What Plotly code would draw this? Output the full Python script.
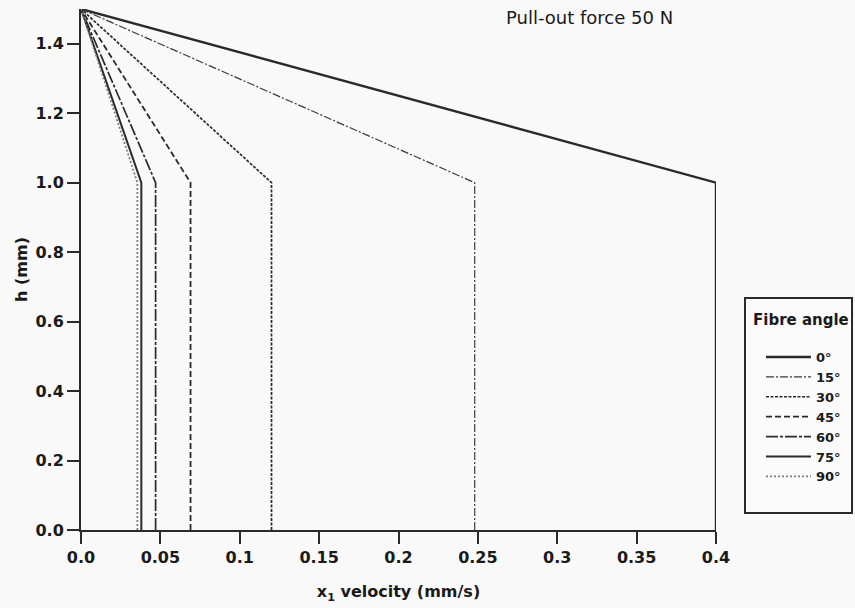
import plotly.graph_objects as go

# Fibre angle cases and their x1 velocity below the fibre tip (mm/s)
angles = ["0°", "15°", "30°", "45°", "60°", "75°", "90°"]
base_velocity = [0.400, 0.248, 0.120, 0.069, 0.047, 0.038, 0.0355]

# Heights (mm) of the profile break points: bottom, fibre end, top surface
heights = [0.0, 1.0, 1.5]
top_velocity = 0.0

line_styles = [
    dict(color="#2a2a2a", width=2.4, dash="solid"),
    dict(color="#3a3a3a", width=1.2, dash="8px,2px,2px,2px"),
    dict(color="#2a2a2a", width=1.7, dash="3px,1.5px"),
    dict(color="#2a2a2a", width=1.8, dash="6px,3px"),
    dict(color="#2a2a2a", width=1.7, dash="12px,2px,3px,2px"),
    dict(color="#2a2a2a", width=2.0, dash="solid"),
    dict(color="#7a7a7a", width=1.7, dash="2px,2px"),
]

x_tickvals = [0.0, 0.05, 0.1, 0.15, 0.2, 0.25, 0.3, 0.35, 0.4]
x_ticktext = ["0.0", "0.05", "0.1", "0.15", "0.2", "0.25", "0.3", "0.35", "0.4"]
y_tickvals = [0.0, 0.2, 0.4, 0.6, 0.8, 1.0, 1.2, 1.4]

fig = go.Figure()
for name, v, style in zip(angles, base_velocity, line_styles):
    fig.add_trace(go.Scatter(
        x=[v, v, top_velocity],
        y=heights,
        mode="lines",
        name=name,
        line=style,
    ))

font_family = "DejaVu Sans, Liberation Sans, sans-serif"
axis_common = dict(
    showgrid=False,
    zeroline=False,
    showline=True,
    linecolor="#2a2a2a",
    linewidth=2,
    ticks="outside",
    ticklen=12,
    tickwidth=2,
    tickcolor="#2a2a2a",
    tickfont=dict(family=font_family, size=16, color="#1a1a1a", weight="bold"),
)

# Legend frame in paper coordinates (plot area spans x 81..716 px, y 9..530 px)
def px_x(px):
    return (px - 81) / 635

def px_y(py):
    return (530 - py) / 521

fig.update_layout(
    width=855,
    height=608,
    margin=dict(l=81, r=139, t=9, b=78, autoexpand=False),
    paper_bgcolor="#f9f9f9",
    plot_bgcolor="#f9f9f9",
    font=dict(family=font_family, color="#1a1a1a"),
    xaxis=dict(
        axis_common,
        range=[0, 0.4],
        tickvals=x_tickvals,
        ticktext=x_ticktext,
        title=dict(text="x<sub>1</sub> velocity (mm/s)",
                   font=dict(family=font_family, size=16, weight="bold"),
                   standoff=20),
    ),
    yaxis=dict(
        axis_common,
        range=[0, 1.5],
        tickvals=y_tickvals,
        tickformat=".1f",
        title=dict(text="h (mm)",
                   font=dict(family=font_family, size=16, weight="bold"),
                   standoff=4),
    ),
    legend=dict(
        x=px_x(761), y=px_y(342), xanchor="left", yanchor="top",
        bgcolor="rgba(0,0,0,0)",
        borderwidth=0,
        font=dict(family=font_family, size=13, weight="bold"),
        itemwidth=45,
    ),
    shapes=[dict(
        type="rect", xref="paper", yref="paper",
        x0=px_x(745), x1=px_x(852), y0=px_y(513), y1=px_y(298),
        line=dict(color="#2a2a2a", width=2),
        fillcolor="#fbfbfb", layer="below",
    )],
    annotations=[
        dict(
            text="Pull-out force 50 N",
            xref="paper", yref="paper",
            x=0.80, y=0.983, xanchor="center", yanchor="middle",
            showarrow=False,
            font=dict(family=font_family, size=18, color="#1a1a1a"),
        ),
        dict(
            text="Fibre angle",
            xref="paper", yref="paper",
            x=px_x(801), y=px_y(320), xanchor="center", yanchor="middle",
            showarrow=False,
            font=dict(family=font_family, size=15, weight="bold", color="#1a1a1a"),
        ),
    ],
)

fig.write_html("out.html")
